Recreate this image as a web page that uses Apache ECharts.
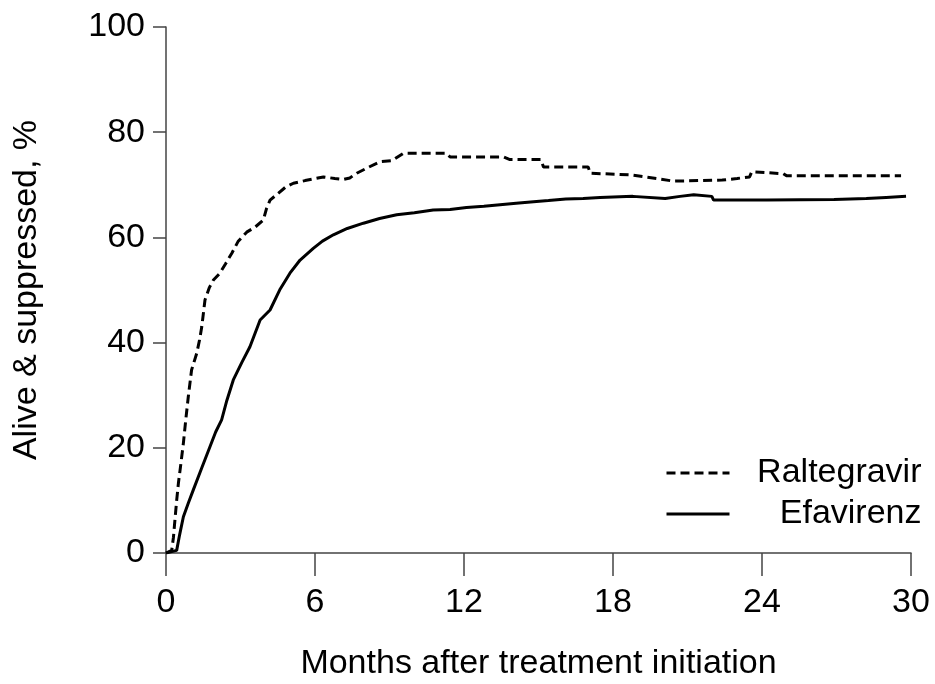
<!DOCTYPE html>
<html>
<head>
<meta charset="utf-8">
<title>Alive & suppressed</title>
<script src="https://cdn.jsdelivr.net/npm/echarts@6/dist/echarts.min.js"></script>
<style>
  html, body { margin: 0; padding: 0; background: #fff; }
  #main { width: 935px; height: 684px; }
</style>
</head>
<body>
<div id="main"></div>
<script>
// months after start, percent alive & suppressed
var seriesNames = ['Raltegravir', 'Efavirenz'];
var xTicks = [0, 6, 12, 18, 24, 30];
var yTicks = [0, 20, 40, 60, 80, 100];

var raltegravir = [
  [0, 0], [0.23, 0.5], [0.3, 3], [0.36, 6.3], [0.43, 10], [0.5, 13.3], [0.6, 17],
  [0.7, 20.9], [0.8, 25.5], [0.9, 29.8], [1.03, 34.8], [1.24, 38], [1.35, 40.5],
  [1.44, 43], [1.57, 48.1], [1.75, 50.5], [1.91, 51.9], [2.17, 53.2], [2.4, 55],
  [2.65, 57], [2.9, 59.2], [3.25, 61], [3.6, 62], [3.92, 63.3], [4.05, 65.5],
  [4.19, 67.1], [4.5, 68.3], [4.8, 69.5], [5.13, 70.3], [5.6, 70.8], [6.34, 71.5],
  [6.8, 71.2], [7.14, 71.0], [7.4, 71.3], [7.68, 72.2], [8.1, 73.2], [8.62, 74.4],
  [9.1, 74.6], [9.56, 76.0], [11.3, 76.0], [11.44, 75.3], [13.6, 75.3], [13.85, 74.8],
  [15.1, 74.8], [15.2, 73.4], [17.0, 73.4], [17.08, 72.2], [18.7, 71.9], [19.76, 71.2],
  [20.43, 70.7], [22.4, 70.9], [23.0, 71.2], [23.5, 71.5], [23.59, 72.5], [24.86, 72.1],
  [25.0, 71.7], [29.6, 71.7]
];

var efavirenz = [
  [0, 0], [0.43, 0.5], [0.55, 3.5], [0.7, 6.9], [0.9, 9.5], [1.1, 12], [1.45, 16.3],
  [1.77, 20.2], [2.0, 23], [2.24, 25.3], [2.45, 29], [2.71, 32.9], [3.05, 36.2],
  [3.38, 39.2], [3.79, 44.3], [4.19, 46.2], [4.6, 50.2], [4.99, 53.2], [5.4, 55.7],
  [5.93, 57.9], [6.3, 59.3], [6.74, 60.5], [7.3, 61.7], [7.95, 62.7], [8.6, 63.6],
  [9.29, 64.3], [10.0, 64.7], [10.76, 65.2], [11.44, 65.3], [12.1, 65.7], [12.8, 65.9],
  [13.45, 66.2], [14.1, 66.5], [14.8, 66.8], [15.4, 67.0], [16.1, 67.3], [16.8, 67.4],
  [17.48, 67.6], [18.8, 67.8], [20.1, 67.4], [20.7, 67.8], [21.25, 68.1], [21.98, 67.8],
  [22.05, 67.1], [24.2, 67.1], [26.9, 67.2], [28.2, 67.4], [29.0, 67.6], [29.8, 67.8]
];

var font = 'Liberation Sans, Arial, sans-serif';
var axisCol = '#444';
var fs = 34;

var myChart = echarts.init(document.getElementById('main'));

var option = {
  animation: false,
  backgroundColor: '#fff',
  textStyle: { fontFamily: font, color: '#000' },
  grid: { left: 166, right: 24, top: 27, bottom: 131, outerBoundsMode: 'none' },
  legend: {
    orient: 'vertical',
    left: 665,
    top: 456,
    padding: 0,
    itemWidth: 63,
    itemHeight: 14,
    itemGap: 7,
    data: seriesNames,
    itemStyle: { opacity: 0 },
    lineStyle: { width: 3 },
    formatter: '{n|{name}}',
    textStyle: {
      rich: {
        n: { width: 187, align: 'right', fontSize: fs, lineHeight: 37, fontFamily: font, color: '#000' }
      }
    }
  },
  xAxis: {
    type: 'value',
    min: xTicks[0],
    max: xTicks[xTicks.length - 1],
    interval: 6,
    name: 'Months after treatment initiation',
    nameLocation: 'middle',
    nameGap: 94,
    nameTextStyle: { fontSize: fs, color: '#000', fontFamily: font },
    splitLine: { show: false },
    axisLine: { onZero: false, lineStyle: { color: axisCol, width: 1.5 } },
    axisTick: { length: 23, lineStyle: { color: axisCol, width: 1.5 } },
    axisLabel: { fontSize: fs, color: '#000', margin: 33, fontFamily: font }
  },
  yAxis: {
    type: 'value',
    min: yTicks[0],
    max: yTicks[yTicks.length - 1],
    interval: 20,
    name: 'Alive & suppressed, %',
    nameLocation: 'middle',
    nameGap: 122,
    nameRotate: 90,
    nameTextStyle: { fontSize: fs, color: '#000', fontFamily: font },
    splitLine: { show: false },
    axisLine: { show: true, lineStyle: { color: axisCol, width: 1.5 } },
    axisTick: { show: true, length: 13, lineStyle: { color: axisCol, width: 1.5 } },
    axisLabel: { fontSize: fs, color: '#000', margin: 21, fontFamily: font }
  },
  series: [
    {
      name: seriesNames[0],
      type: 'line',
      data: raltegravir,
      showSymbol: false,
      symbol: 'none',
      lineStyle: { color: '#000', width: 3, type: [9, 5] },
      itemStyle: { color: '#000' }
    },
    {
      name: seriesNames[1],
      type: 'line',
      data: efavirenz,
      showSymbol: false,
      symbol: 'none',
      lineStyle: { color: '#000', width: 3, type: 'solid' },
      itemStyle: { color: '#000' }
    }
  ]
};

myChart.setOption(option);
</script>
</body>
</html>
